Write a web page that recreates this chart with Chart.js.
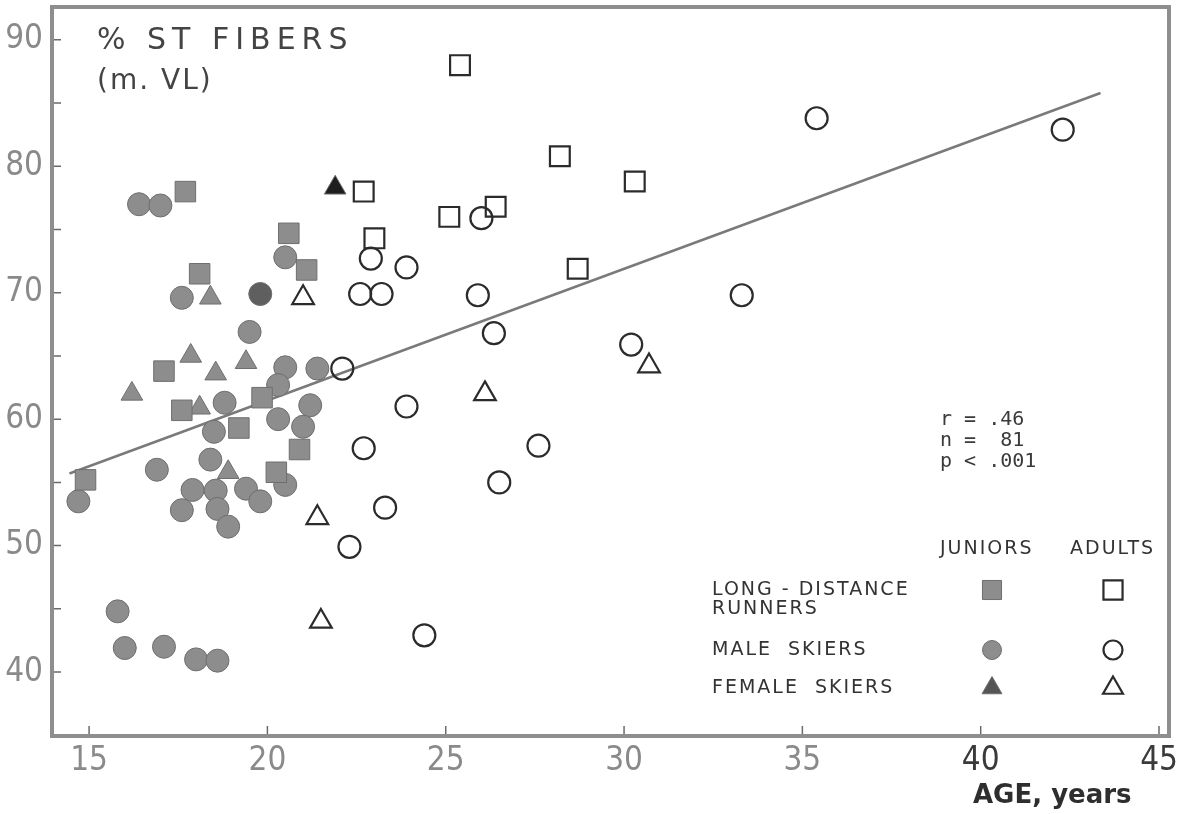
<!DOCTYPE html>
<html>
<head>
<meta charset="utf-8">
<script src="https://cdn.jsdelivr.net/npm/chart.js@4/dist/chart.umd.min.js"></script>
<style>
  html, body { margin: 0; padding: 0; background: #fff; }
  #wrap { width: 1192px; height: 814px; position: relative; }
</style>
</head>
<body>
<div id="wrap"><canvas id="fiberChart"></canvas></div>
<script>
// values: [age, % ST fibers]
const juniorRunners = [[17.7, 78], [20.6, 74.7], [21.1, 71.8], [18.1, 71.5], [17.1, 63.8], [19.85, 61.7],
    [17.6, 60.7], [19.2, 59.3], [20.9, 57.6], [20.25, 55.8], [14.9, 55.2]];
const adultRunners = [[25.4, 88], [22.7, 78], [23.0, 74.3], [25.1, 76], [26.4, 76.8], [28.2, 80.8],
    [30.3, 78.8], [28.7, 71.9]];
const juniorMaleSkiers = [[16.4, 77], [17.0, 76.9], [20.5, 72.8], [17.6, 69.6], [19.8, 69.9], [19.5, 66.9],
    [20.5, 64.1], [21.4, 64.0], [20.3, 62.7], [18.8, 61.3], [21.2, 61.1], [20.3, 60.0], [21.0, 59.4],
    [18.5, 59.0], [18.4, 56.8], [16.9, 56.0], [20.5, 54.8], [14.7, 53.5], [17.9, 54.4], [18.55, 54.35],
    [19.4, 54.5], [19.8, 53.5], [17.6, 52.8], [18.6, 52.9], [18.9, 51.5], [15.8, 44.8], [16.0, 41.9],
    [17.1, 42.0], [18.0, 41.0], [18.6, 40.9]];
const adultMaleSkiers = [[22.9, 72.7], [23.9, 72], [26.0, 75.9], [22.6, 69.9], [23.2, 69.9], [22.1, 64.0],
    [23.9, 61.0], [22.7, 57.7], [23.3, 53.0], [22.3, 49.9], [24.4, 42.9], [25.9, 69.8], [33.3, 69.8],
    [26.35, 66.8], [30.2, 65.9], [27.6, 57.9], [26.5, 55.0], [35.4, 83.8], [42.3, 82.9]];
const juniorFemaleSkiers = [[21.9, 78.3], [18.4, 69.6], [17.85, 65.0], [18.55, 63.6], [19.4, 64.5],
    [16.2, 62.0], [18.1, 60.9], [18.9, 55.8]];
const adultFemaleSkiers = [[21.0, 69.6], [21.4, 52.2], [21.5, 44.0], [30.7, 64.2], [26.1, 62.0]];
const trendLine = [[14.45, 55.7], [43.36, 85.8]];

const xTickValues = [15, 20, 25, 30, 35, 40, 45];
const yTickValues = [40, 45, 50, 55, 60, 65, 70, 75, 80, 85, 90];
const statLines = ['r = .46', 'n =  81', 'p < .001'];
const legendRows = ['LONG - DISTANCE', 'MALE  SKIERS', 'FEMALE  SKIERS'];

const toXY = arr => arr.map(p => ({x: p[0], y: p[1]}));

const GRAY = '#8d8d8d';
const GRAY_EDGE = '#6e6e6e';
const INK = '#2b2b2b';

function filled(label, data, style, radius) {
    return {
        label: label, data: toXY(data), pointStyle: style, pointRadius: radius, pointHoverRadius: radius,
        backgroundColor: GRAY, borderColor: GRAY_EDGE, borderWidth: 1, showLine: false
    };
}
function open(label, data, style, radius) {
    return {
        label: label, data: toXY(data), pointStyle: style, pointRadius: radius, pointHoverRadius: radius,
        backgroundColor: 'rgba(0,0,0,0)', borderColor: INK, borderWidth: 2.2, showLine: false
    };
}

const femaleJ = filled('Female skiers, juniors', juniorFemaleSkiers, 'triangle', 12.5);
femaleJ.backgroundColor = c => c.dataIndex === 0 ? '#1e1e1e' : GRAY;
const maleJ = filled('Male skiers, juniors', juniorMaleSkiers, 'circle', 11.5);
maleJ.backgroundColor = c => c.dataIndex === 4 ? '#5f5f5f' : GRAY;

const decor = {
    id: 'decor',
    afterDraw(chart) {
        const {ctx, chartArea: a, scales: {x, y}} = chart;
        ctx.save();
        // frame
        ctx.strokeStyle = '#8e8e8e';
        ctx.lineWidth = 4;
        ctx.strokeRect(a.left, a.top, a.right - a.left, a.bottom - a.top);
        // inward tick marks
        ctx.strokeStyle = '#6a6a6a';
        ctx.lineWidth = 1.5;
        ctx.beginPath();
        yTickValues.forEach(v => {
            const py = y.getPixelForValue(v);
            ctx.moveTo(a.left + 2, py); ctx.lineTo(a.left + 9, py);
        });
        xTickValues.forEach(v => {
            const px = Math.min(x.getPixelForValue(v), a.right - 2);
            ctx.moveTo(px, a.bottom - 2); ctx.lineTo(px, a.bottom - 10);
        });
        ctx.stroke();

        // title
        ctx.fillStyle = '#444';
        ctx.textBaseline = 'middle';
        ctx.textAlign = 'left';
        ctx.font = '30px "DejaVu Sans"';
        ctx.letterSpacing = '6px';
        ctx.fillText('% ST FIBERS', 97, 41);
        ctx.letterSpacing = '2px';
        ctx.font = '28px "DejaVu Sans"';
        ctx.fillText('(m. VL)', 97, 82);

        // stats
        ctx.letterSpacing = '0px';
        ctx.font = '20px "DejaVu Sans Mono"';
        ctx.fillStyle = '#3a3a3a';
        statLines.forEach((s, i) => ctx.fillText(s, 940, 420 + i * 21));

        // legend
        ctx.font = '19px "DejaVu Sans"';
        ctx.letterSpacing = '2px';
        ctx.fillStyle = '#333';
        ctx.fillText('JUNIORS', 940, 549);
        ctx.fillText('ADULTS', 1070, 549);
        const rowsY = [590, 650, 688];
        ctx.fillText(legendRows[0], 712, rowsY[0]);
        ctx.fillText('RUNNERS', 712, rowsY[0] + 19);
        ctx.fillText(legendRows[1], 712, rowsY[1]);
        ctx.fillText(legendRows[2], 712, rowsY[2]);
        const styles = [['rect', 13.5], ['circle', 9.5], ['triangle', 11.5]];
        styles.forEach((s, i) => {
            ctx.fillStyle = i === 2 ? '#555' : GRAY;
            ctx.strokeStyle = GRAY_EDGE;
            ctx.lineWidth = 1;
            Chart.helpers.drawPoint(ctx, {pointStyle: s[0], radius: s[1], rotation: 0, borderWidth: 1}, 992, rowsY[i]);
            ctx.fillStyle = 'rgba(0,0,0,0)';
            ctx.strokeStyle = INK;
            ctx.lineWidth = 2.2;
            Chart.helpers.drawPoint(ctx, {pointStyle: s[0], radius: s[1], rotation: 0, borderWidth: 2.2}, 1113, rowsY[i]);
        });

        // x axis title
        ctx.letterSpacing = '0px';
        ctx.fillStyle = '#2e2e2e';
        ctx.font = 'bold 26px "DejaVu Sans"';
        ctx.textBaseline = 'alphabetic';
        ctx.fillText('AGE, years', 973, 803);
        ctx.restore();
    }
};

const tickFont = {family: '"Liberation Sans Narrow", "DejaVu Sans Condensed", sans-serif', size: 33};

new Chart(document.getElementById('fiberChart'), {
    type: 'scatter',
    data: {
        datasets: [
            filled('Runners, juniors', juniorRunners, 'rect', 14.5),
            open('Runners, adults', adultRunners, 'rect', 14),
            maleJ,
            open('Male skiers, adults', adultMaleSkiers, 'circle', 11),
            femaleJ,
            open('Female skiers, adults', adultFemaleSkiers, 'triangle', 12.5),
            {
                type: 'line', label: 'Regression', data: toXY(trendLine),
                borderColor: '#7a7a7a', borderWidth: 2.5, pointRadius: 0, fill: false
            }
        ]
    },
    options: {
        responsive: true,
        maintainAspectRatio: false,
        devicePixelRatio: 1,
        animation: false,
        layout: {autoPadding: false, padding: {top: 7, right: 23, left: 0, bottom: 0}},
        plugins: {legend: {display: false}, tooltip: {enabled: false}},
        scales: {
            x: {
                type: 'linear', min: 13.96, max: 45.28,
                grid: {display: false, drawTicks: false},
                border: {display: false},
                afterBuildTicks: s => { s.ticks = xTickValues.map(v => ({value: v})); },
                afterFit: s => { s.height = 78; s.paddingLeft = 0; s.paddingRight = 0; },
                ticks: {
                    padding: 6, font: tickFont, maxRotation: 0, autoSkip: false,
                    color: c => c.tick && c.tick.value >= 40 ? '#3a3a3a' : '#8a8a8a'
                }
            },
            y: {
                type: 'linear', min: 34.94, max: 92.6,
                grid: {display: false, drawTicks: false},
                border: {display: false},
                afterBuildTicks: s => { s.ticks = yTickValues.map(v => ({value: v})); },
                afterFit: s => { s.width = 52; s.paddingTop = 0; s.paddingBottom = 0; },
                ticks: {
                    padding: 9, font: tickFont, color: '#8a8a8a', autoSkip: false,
                    callback: v => v % 10 === 0 ? v : ''
                }
            }
        }
    },
    plugins: [decor]
});
</script>
</body>
</html>
